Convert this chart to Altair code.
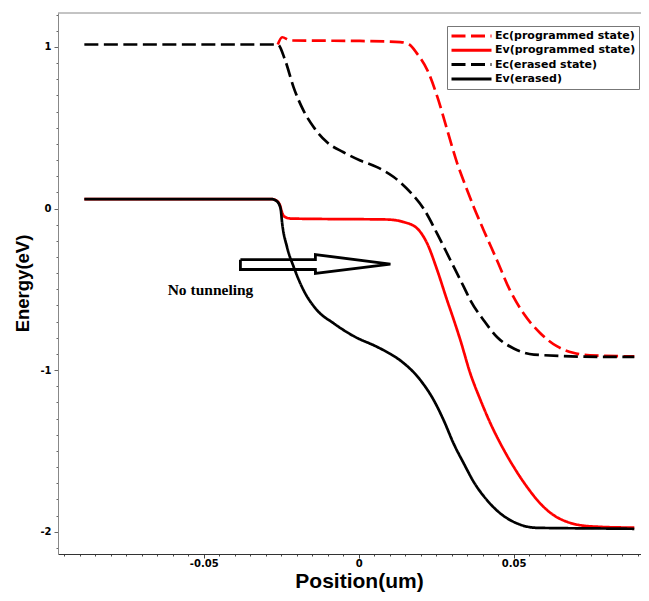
import altair as alt
import pandas as pd

# ---------------- data ----------------
series_names = ["Ec(programmed state)", "Ev(programmed state)", "Ec(erased state)", "Ev(erased)"]
series_colors = ["#ff0000", "#ff0000", "#000000", "#000000"]
series_dashes = [[14, 5.5], [1, 0], [14, 5.5], [1, 0]]

ec_prog_x = [-0.0261, -0.0247, -0.0220, 0.0, 0.0134, 0.0163, 0.0189, 0.0222, 0.0254, 0.0286,
             0.0318, 0.0338, 0.0371, 0.0403, 0.0446, 0.0489, 0.0532, 0.0585, 0.0639, 0.0692,
             0.0746, 0.0889]
ec_prog_y = [1.015, 1.06, 1.04, 1.037, 1.03, 1.015, 0.957, 0.854, 0.689, 0.483,
             0.278, 0.173, 0.01, -0.134, -0.32, -0.51, -0.65, -0.77, -0.852, -0.893,
             -0.908, -0.915]

ev_prog_x = [-0.0885, -0.0280, -0.0262, -0.0254, -0.0248, -0.0241, -0.0220, -0.010, 0.0, 0.0091,
             0.0144, 0.0189, 0.0221, 0.0253, 0.0285, 0.0306, 0.0328, 0.0360, 0.0393, 0.0425,
             0.0457, 0.0500, 0.0543, 0.0586, 0.0629, 0.0672, 0.0715, 0.0780, 0.0889]
ev_prog_y = [0.058, 0.058, 0.045, 0.02, -0.02, -0.048, -0.062, -0.065, -0.066, -0.068,
             -0.083, -0.124, -0.217, -0.38, -0.567, -0.685, -0.815, -1.021, -1.186, -1.33,
             -1.454, -1.599, -1.723, -1.826, -1.898, -1.939, -1.96, -1.97, -1.975]

ec_er_x = [-0.0885, -0.0261, -0.0237, -0.0210, -0.0178, -0.0145, -0.0102, -0.0049, 0.0005, 0.0059,
           0.0113, 0.0167, 0.0209, 0.0253, 0.0296, 0.0339, 0.0360, 0.0403, 0.0446, 0.0500,
           0.0565, 0.0780, 0.0889]
ec_er_y = [1.015, 1.015, 0.916, 0.75, 0.606, 0.503, 0.41, 0.348, 0.297, 0.256,
           0.195, 0.10, 0.0, -0.155, -0.32, -0.485, -0.567, -0.691, -0.795, -0.866,
           -0.904, -0.918, -0.918]

ev_er_x = [-0.0885, -0.0280, -0.0264, -0.0252, -0.0247, -0.0231, -0.0210, -0.0178, -0.0134, -0.0081,
           -0.0016, 0.0059, 0.0102, 0.0134, 0.0199, 0.0242, 0.0274, 0.0306, 0.0339, 0.0371,
           0.0414, 0.0457, 0.0511, 0.0575, 0.0780, 0.0889]
ev_er_y = [0.058, 0.058, 0.045, 0.0, -0.09, -0.24, -0.36, -0.505, -0.63, -0.71,
           -0.79, -0.856, -0.90, -0.94, -1.062, -1.186, -1.31, -1.454, -1.578, -1.692,
           -1.805, -1.887, -1.949, -1.976, -1.98, -1.982]

# hollow arrow annotation outline (data coordinates)
arrow_x = [-0.03816, -0.01397, -0.01397, 0.01023, -0.01397, -0.01397, -0.03816, -0.03816]
arrow_y = [-0.3168, -0.3168, -0.2847, -0.3447, -0.4022, -0.3775, -0.3775, -0.3168]

note_text = ["No tunneling"]
note_x = [-0.0478]
note_y = [-0.533]

x_tick_values = [round(-0.095 + 0.005 * i, 3) for i in range(38)]
y_tick_values = [round(-2.1 + 0.1 * i, 1) for i in range(34)]

# ---------------- tables ----------------
rows = []
for name, xs, ys in zip(series_names,
                        [ec_prog_x, ev_prog_x, ec_er_x, ev_er_x],
                        [ec_prog_y, ev_prog_y, ec_er_y, ev_er_y]):
    for a, b in zip(xs, ys):
        rows.append({"series": name, "x": a, "y": b})
df = pd.DataFrame(rows)

arrow_df = pd.DataFrame({"x": arrow_x, "y": arrow_y, "k": list(range(len(arrow_x)))})
note_df = pd.DataFrame({"x": note_x, "y": note_y, "t": note_text})

W, H = 583, 541

x_major = "abs(datum.value*20 - round(datum.value*20)) < 0.001"
y_major = "abs(datum.value - round(datum.value)) < 0.001"

X = alt.X("x:Q", scale=alt.Scale(domain=[-0.097, 0.09106], nice=False, zero=False),
          axis=alt.Axis(values=x_tick_values, title="Position(um)",
                        titleFont="Liberation Sans", titleFontSize=21, titleFontWeight="bold",
                        titleColor="black", titleX=301, titleY=33.5, titleBaseline="alphabetic",
                        labelExpr=f"{x_major} ? '' + round(datum.value*100)/100 : ''",
                        labelFont="DejaVu Sans", labelFontWeight="bold", labelFontSize=10,
                        labelColor="black", labelPadding=0, labelOverlap=False, labelFlush=False,
                        tickSize={"condition": {"test": x_major, "value": 4}, "value": 2},
                        tickColor="#444", domainColor="#333", grid=False))
Y = alt.Y("y:Q", scale=alt.Scale(domain=[-2.138, 1.21], nice=False, zero=False),
          axis=alt.Axis(values=y_tick_values, title="Energy(eV)",
                        titleFont="Liberation Sans", titleFontSize=18.5, titleFontWeight="bold",
                        titleColor="black", titleX=-29.5, titleY=270, titleBaseline="alphabetic",
                        labelExpr=f"{y_major} ? '' + round(datum.value) : ''",
                        labelFont="DejaVu Sans", labelFontWeight="bold", labelFontSize=10,
                        labelColor="black", labelPadding=3, labelOverlap=False, labelFlush=False,
                        tickSize={"condition": {"test": y_major, "value": 4}, "value": 2},
                        tickColor="#666", domainColor="#888", grid=False))

legend = alt.Legend(title=None, orient="none", legendX=389, legendY=13,
                    symbolType="stroke", symbolSize=1600, symbolStrokeWidth=3, clipHeight=14,
                    labelFont="DejaVu Sans", labelFontWeight="bold", labelFontSize=11,
                    labelColor="black", labelOffset=2, labelLimit=400, padding=3, rowPadding=0.3,
                    fillColor="white", strokeColor="#777")

frame = alt.Chart(pd.DataFrame({"a": [0]})).mark_rule(color="#888", strokeWidth=1).encode(
    x=alt.value(0), x2=alt.value(W), y=alt.value(0))

lines = alt.Chart(df).mark_line(strokeWidth=2.7, interpolate="monotone").encode(
    x=X, y=Y,
    color=alt.Color("series:N", scale=alt.Scale(domain=series_names, range=series_colors), legend=legend),
    strokeDash=alt.StrokeDash("series:N", scale=alt.Scale(domain=series_names, range=series_dashes), legend=legend),
)

arrow = alt.Chart(arrow_df).mark_line(color="black", strokeWidth=2.8, strokeJoin="miter").encode(
    x=X, y=Y, order="k:Q")

note = alt.Chart(note_df).mark_text(font="Liberation Serif", fontWeight="bold", fontSize=15.5,
                                    align="center", baseline="alphabetic", color="black").encode(
    x=X, y=Y, text="t:N")

chart = alt.layer(frame, lines, arrow, note).properties(
    width=W, height=H,
    padding={"left": 50, "top": 5, "right": 0, "bottom": 38},
    autosize=alt.AutoSizeParams(type="none"),
    background="white",
).configure_view(stroke=None)

chart.save("out.html", embed_options={"renderer": "svg", "actions": False})
